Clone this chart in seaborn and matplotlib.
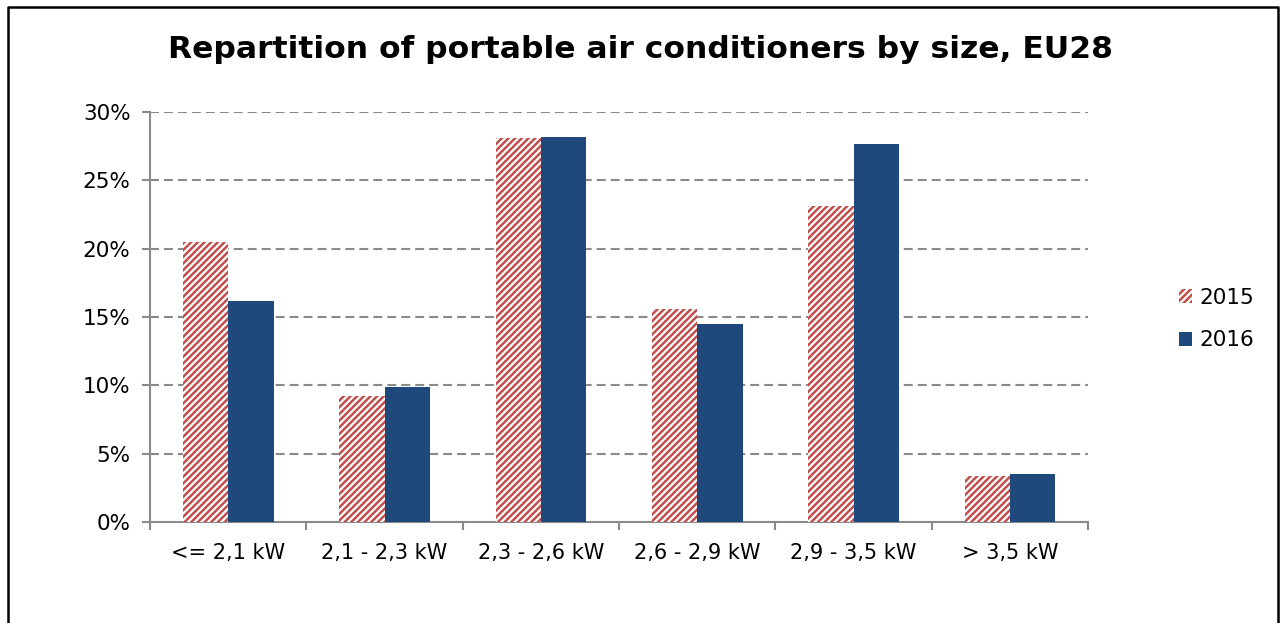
import matplotlib
matplotlib.use("Agg")
import matplotlib.pyplot as plt
import seaborn as sns
import pandas as pd
from matplotlib.lines import Line2D
from matplotlib.patches import Patch
from matplotlib.ticker import PercentFormatter, FixedLocator

categories = ["<= 2,1 kW", "2,1 - 2,3 kW", "2,3 - 2,6 kW", "2,6 - 2,9 kW", "2,9 - 3,5 kW", "> 3,5 kW"]
share_2015 = [20.5, 9.2, 28.1, 15.6, 23.1, 3.4]
share_2016 = [16.2, 9.9, 28.2, 14.5, 27.7, 3.5]
years = ["2015", "2016"]
yticks = [0, 5, 10, 15, 20, 25, 30]

RED = "#C0504D"
NAVY = "#1F497D"
GRAY = "#8A8A8A"
HATCH = "/////"

sns.set_theme(style="white")
plt.rcParams["font.family"] = ["DejaVu Sans"]
plt.rcParams["hatch.linewidth"] = 1.8

df = pd.DataFrame({
    "size": categories * 2,
    "share": share_2015 + share_2016,
    "year": [years[0]] * len(categories) + [years[1]] * len(categories),
})

fig = plt.figure(figsize=(12.82, 6.23), dpi=100)
ax = fig.add_axes([0.117, 0.162, 0.7317, 0.658])

sns.barplot(data=df, x="size", y="share", hue="year", order=categories,
            hue_order=years, palette=["white", NAVY], width=0.58,
            saturation=1, ax=ax, zorder=3)

for p in ax.containers[0]:
    p.set_hatch(HATCH)
    p.set_edgecolor(RED)
    p.set_linewidth(0)
for p in ax.containers[1]:
    p.set_edgecolor(NAVY)
    p.set_linewidth(0)

ax.set_ylim(0, 30)
ax.set_xlim(-0.5, len(categories) - 0.5)
ax.set_yticks(yticks)
ax.yaxis.set_major_formatter(PercentFormatter(decimals=0))
ax.set_xlabel("")
ax.set_ylabel("")

for y in yticks[1:]:
    ax.axhline(y, color=GRAY, linestyle=(0, (4.3, 2.4)), linewidth=1.5, zorder=1)

for s in ["top", "right"]:
    ax.spines[s].set_visible(False)
for s in ["left", "bottom"]:
    ax.spines[s].set_color(GRAY)
    ax.spines[s].set_linewidth(1.5)

ax.tick_params(axis="y", which="major", direction="out", length=6, width=1.5,
               color=GRAY, labelsize=15.5, pad=8, left=True)
ax.tick_params(axis="x", which="major", length=0, labelsize=15, pad=15)
ax.xaxis.set_minor_locator(FixedLocator([i - 0.5 for i in range(len(categories) + 1)]))
ax.tick_params(axis="x", which="minor", direction="out", length=6, width=1.5,
               color=GRAY, bottom=True)
for lab in ax.get_xticklabels() + ax.get_yticklabels():
    lab.set_color("black")

ax.get_legend().remove()
handles = [
    Patch(facecolor="white", edgecolor=RED, hatch=HATCH, linewidth=0, label=years[0]),
    Patch(facecolor=NAVY, edgecolor=NAVY, linewidth=0, label=years[1]),
]
leg = ax.legend(handles=handles, loc="center left", bbox_to_anchor=(1.097, 0.495),
                frameon=False, fontsize=15.5, handlelength=0.6, handleheight=0.6,
                handletextpad=0.35, labelspacing=1.05, borderpad=0, borderaxespad=0)
for t in leg.get_texts():
    t.set_color("black")

fig.text(0.5, 0.92, "Repartition of portable air conditioners by size, EU28",
         ha="center", va="center", fontsize=22.6, fontweight="bold", color="black")

fig.add_artist(Line2D([0.0062, 0.0062, 0.9965, 0.9965], [0.0, 0.988, 0.988, 0.0],
                      transform=fig.transFigure, color="black", linewidth=1.8))

fig.savefig("out.png", dpi=100, facecolor="white")
